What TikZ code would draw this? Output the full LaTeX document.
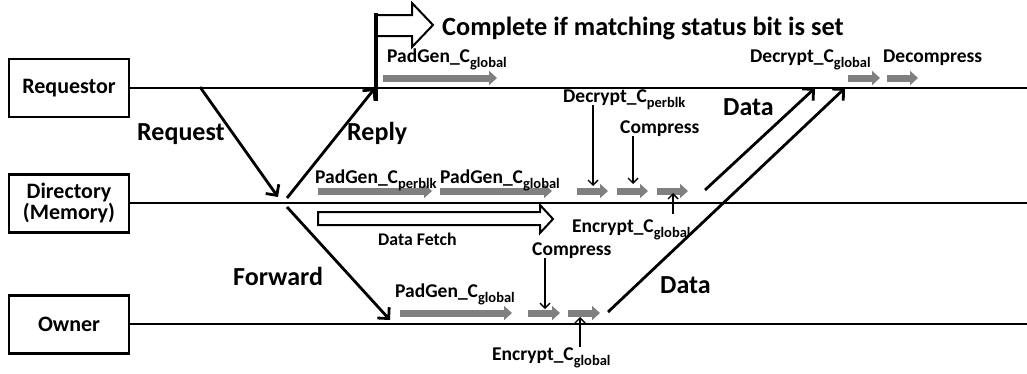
\documentclass[tikz,border=0pt]{standalone}
\usepackage{fontspec}
\setmainfont{Carlito}
\usetikzlibrary{arrows.meta}
\definecolor{stagegray}{RGB}{128,128,128}
\newcommand\lowsub[1]{\raisebox{-0.28em}{\fontsize{14.5}{16}\selectfont #1}}

\begin{document}
\begin{tikzpicture}[x=1pt,y=-1pt,
  agent/.style={shape=rectangle, draw=black, line width=2.2pt, minimum width=120pt, minimum height=58pt,
    align=center, font=\fontsize{22}{24}\selectfont\bfseries, inner sep=0pt},
  lane/.style={line width=1.8pt},
  msg/.style={line width=2.8pt, -{Straight Barb[length=8pt,width=16pt]}},
  pointer/.style={line width=1.4pt, -{Straight Barb[length=5pt,width=10pt]}},
  stage/.style={draw=stagegray, line width=7pt, -{Triangle[length=8pt,width=14pt]}},
  lbl/.style={font=\fontsize{19.5}{22}\selectfont\bfseries, anchor=base west, inner sep=0pt},
  biglbl/.style={font=\fontsize{26}{30}\selectfont\bfseries, anchor=base west, inner sep=0pt},
  hollow/.style={draw, line width=2pt, fill=white, line join=miter}]
\useasboundingbox (0,0) rectangle (1027,373);

% participants
\node[agent] (req) at (69,88) {Requestor};
\node[agent] (dir) at (69,203.5) {Directory\\[-3pt](Memory)};
\node[agent] (own) at (69,324.5) {Owner};

% lifelines
\coordinate (reqEnd) at (1027,88);
\coordinate (dirEnd) at (1027,203);
\coordinate (ownEnd) at (1027,324);
\draw[lane] (req.east |- reqEnd) -- (reqEnd);
\draw[lane] (dir.east |- dirEnd) -- (dirEnd);
\draw[lane] (own.east |- ownEnd) -- (ownEnd);

% protocol messages
\coordinate (reqOut) at (200,87);
\coordinate (reqIn) at (278,197);
\coordinate (repOut) at (287,198);
\coordinate (repIn) at (375,88);
\coordinate (fwdOut) at (287,207);
\coordinate (fwdIn) at (390,320);
\coordinate (dataDirOut) at (705,190);
\coordinate (dataDirIn) at (815,88);
\coordinate (dataOwnOut) at (608,312);
\coordinate (dataOwnIn) at (845,88);
\draw[msg] (reqOut) -- (reqIn);
\draw[msg] (repOut) -- (repIn);
\draw[msg] (fwdOut) -- (fwdIn);
\draw[msg] (dataDirOut) -- (dataDirIn);
\draw[msg] (dataOwnOut) -- (dataOwnIn);

\node[biglbl] (lreq) at (137,140) {Request};
\node[biglbl] (lrep) at (347,140) {Reply};
\node[biglbl] (lfwd) at (233,285) {Forward};
\node[biglbl] (ldat1) at (723,115) {Data};
\node[biglbl] (ldat2) at (660,293) {Data};

% early completion on the requestor
\coordinate (cmpBot) at (376,101);
\coordinate (cmpTop) at (376,13);
\draw[hollow] (376,15) -- (412,15) -- (412,3) -- (433,25) -- (412,47) -- (412,36) -- (376,36);
\draw[line width=4pt] (cmpBot) -- (cmpTop);
\node[anchor=base west, inner sep=0pt, font=\fontsize{26.3}{29}\selectfont\bfseries] (lcmp) at (442,35)
  {Complete if matching status bit is set};

% data fetch from memory
\draw[hollow] (318,212) -- (540,212) -- (540,205) -- (553,219) -- (540,233) -- (540,225) -- (318,225) -- cycle;
\node[lbl, font=\fontsize{17.8}{20}\selectfont\bfseries] (lfetch) at (378,245) {Data Fetch};

% requestor operations
\draw[stage] (383,78) -- (497,78);
\draw[stage] (848,78) -- (880,78);
\draw[stage] (887,78) -- (918,78);
\node[lbl] (rpad) at (387,62) {PadGen\_C\lowsub{global}};
\node[lbl] (rdec) at (750,62) {Decrypt\_C\lowsub{global}};
\node[lbl] (rdcm) at (883,62) {Decompress};

% directory operations
\draw[stage] (318,191) -- (432,191);
\draw[stage] (440,191) -- (552,191);
\draw[stage] (577,191) -- (608,191);
\draw[stage] (617,191) -- (648,191);
\draw[stage] (657,191) -- (688,191);
\node[lbl] (dpad1) at (315,183) {PadGen\_C\lowsub{perblk}};
\node[lbl] (dpad2) at (440,183) {PadGen\_C\lowsub{global}};
\node[lbl] (ddec) at (563,102) {Decrypt\_C\lowsub{perblk}};
\node[lbl] (dcmp) at (620,133) {Compress};
\node[lbl] (denc) at (572,232) {Encrypt\_C\lowsub{global}};
\coordinate (ddecA) at (593,105);
\coordinate (ddecB) at (593,186);
\coordinate (dcmpA) at (633,136);
\coordinate (dcmpB) at (633,184);
\coordinate (dencA) at (673,214);
\coordinate (dencB) at (673,193);
\draw[pointer] (ddecA) -- (ddecB);
\draw[pointer] (dcmpA) -- (dcmpB);
\draw[pointer] (dencA) -- (dencB);

% owner operations
\draw[stage] (400,313) -- (512,313);
\draw[stage] (528,313) -- (560,313);
\draw[stage] (568,313) -- (600,313);
\node[lbl] (opad) at (395,297) {PadGen\_C\lowsub{global}};
\node[lbl] (ocmp) at (532,255) {Compress};
\node[lbl] (oenc) at (492,360) {Encrypt\_C\lowsub{global}};
\coordinate (ocmpA) at (545,258);
\coordinate (ocmpB) at (545,309);
\coordinate (oencA) at (580,347);
\coordinate (oencB) at (580,317);
\draw[pointer] (ocmpA) -- (ocmpB);
\draw[pointer] (oencA) -- (oencB);
\end{tikzpicture}
\end{document}
